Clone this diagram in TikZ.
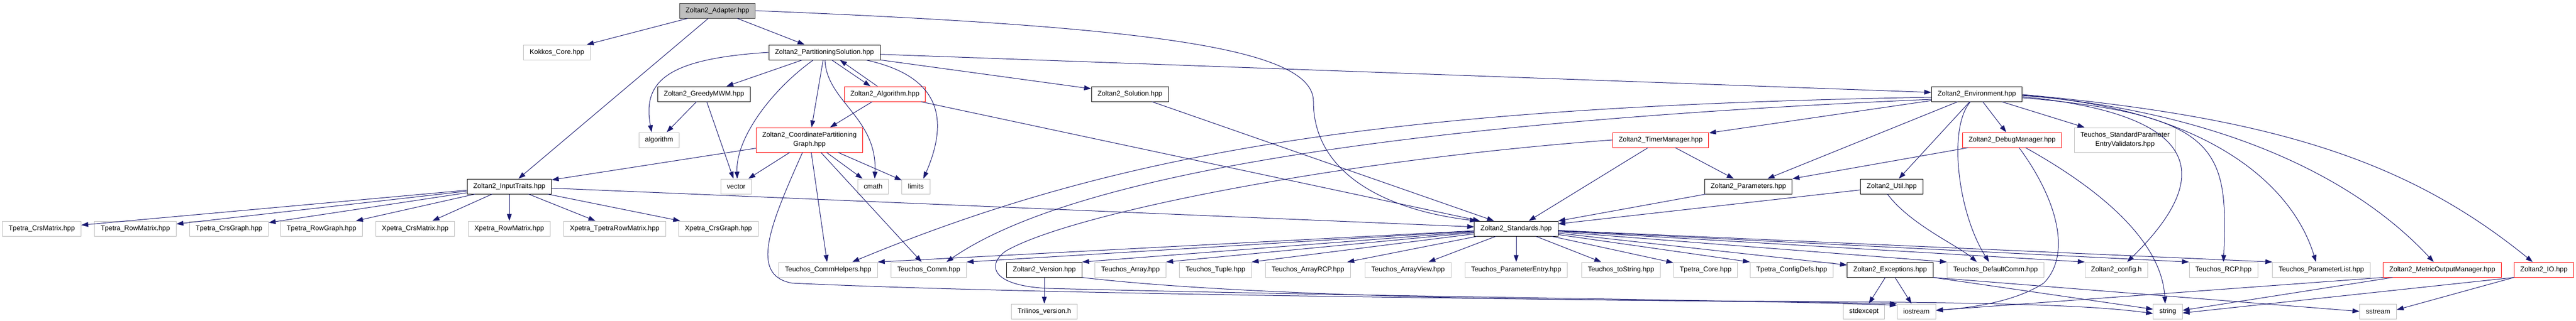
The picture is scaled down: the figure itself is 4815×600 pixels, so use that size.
\documentclass[tikz,border=0pt]{standalone}
\usepackage{fontspec}
\setmainfont{Liberation Sans}
\usetikzlibrary{arrows.meta}
\definecolor{edgeblue}{HTML}{191970}
\definecolor{extgray}{HTML}{BFBFBF}
\definecolor{rootgray}{HTML}{BFBFBF}
\begin{document}
\begin{tikzpicture}[x=1pt,y=-1pt,
	filebox/.style={rectangle,line width=1pt,fill=white,minimum height=28pt,inner xsep=11.5pt,inner ysep=2pt,font=\fontsize{12.8}{17}\selectfont},
	rootbox/.style={filebox,fill=rootgray,draw=black!75},
	docbox/.style={filebox,draw=black},
	extbox/.style={filebox,draw=extgray},
	redbox/.style={filebox,draw=red},
	twoline/.style={align=center,minimum height=46pt},
	incl/.style={draw=edgeblue,line width=1pt,-{Triangle[length=13pt,width=9pt]}}]
			\useasboundingbox (0,0) rectangle (4815,600);
			\node[rootbox] (adapter) at (1341,20) {Zoltan2\_Adapter.hpp};
			\node[extbox] (kokkos) at (1041,98) {Kokkos\_Core.hpp};
			\node[docbox] (partsol) at (1541,98) {Zoltan2\_PartitioningSolution.hpp};
			\node[docbox] (greedy) at (1316,176) {Zoltan2\_GreedyMWM.hpp};
			\node[redbox] (algo) at (1654,176) {Zoltan2\_Algorithm.hpp};
			\node[docbox] (solution) at (2112,176) {Zoltan2\_Solution.hpp};
			\node[docbox] (env) at (3695,176) {Zoltan2\_Environment.hpp};
			\node[extbox] (algorithm) at (1232,262) {algorithm};
			\node[redbox,twoline] (coordgraph) at (1513,262) {Zoltan2\_CoordinatePartitioning\\Graph.hpp};
			\node[redbox] (timer) at (3104,262) {Zoltan2\_TimerManager.hpp};
			\node[redbox] (debug) at (3761,262) {Zoltan2\_DebugManager.hpp};
			\node[extbox,twoline] (validators) at (3972,262) {Teuchos\_StandardParameter\\EntryValidators.hpp};
			\node[docbox] (inputtraits) at (952,349) {Zoltan2\_InputTraits.hpp};
			\node[extbox] (vector) at (1376,349) {vector};
			\node[extbox] (cmath) at (1632,349) {cmath};
			\node[extbox] (limits) at (1712,349) {limits};
			\node[docbox] (params) at (3268,349) {Zoltan2\_Parameters.hpp};
			\node[docbox] (util) at (3536,349) {Zoltan2\_Util.hpp};
			\node[extbox] (tcrsmat) at (78,428) {Tpetra\_CrsMatrix.hpp};
			\node[extbox] (trowmat) at (253,428) {Tpetra\_RowMatrix.hpp};
			\node[extbox] (tcrsgraph) at (428,428) {Tpetra\_CrsGraph.hpp};
			\node[extbox] (trowgraph) at (601,428) {Tpetra\_RowGraph.hpp};
			\node[extbox] (xcrsmat) at (776,428) {Xpetra\_CrsMatrix.hpp};
			\node[extbox] (xrowmat) at (952,428) {Xpetra\_RowMatrix.hpp};
			\node[extbox] (xtprowmat) at (1149,428) {Xpetra\_TpetraRowMatrix.hpp};
			\node[extbox] (xcrsgraph) at (1343,428) {Xpetra\_CrsGraph.hpp};
			\node[docbox] (std) at (2834,428) {Zoltan2\_Standards.hpp};
			\node[extbox] (commhelpers) at (1548,505) {Teuchos\_CommHelpers.hpp};
			\node[extbox] (comm) at (1736,505) {Teuchos\_Comm.hpp};
			\node[docbox] (version) at (1952,505) {Zoltan2\_Version.hpp};
			\node[extbox] (array) at (2113,505) {Teuchos\_Array.hpp};
			\node[extbox] (tuple) at (2272,505) {Teuchos\_Tuple.hpp};
			\node[extbox] (arrayrcp) at (2445,505) {Teuchos\_ArrayRCP.hpp};
			\node[extbox] (arrayview) at (2632,505) {Teuchos\_ArrayView.hpp};
			\node[extbox] (paramentry) at (2834,505) {Teuchos\_ParameterEntry.hpp};
			\node[extbox] (tostring) at (3030,505) {Teuchos\_toString.hpp};
			\node[extbox] (tpcore) at (3188,505) {Tpetra\_Core.hpp};
			\node[extbox] (configdefs) at (3349,505) {Tpetra\_ConfigDefs.hpp};
			\node[docbox] (exceptions) at (3533,505) {Zoltan2\_Exceptions.hpp};
			\node[extbox] (defaultcomm) at (3730,505) {Teuchos\_DefaultComm.hpp};
			\node[extbox] (config) at (3956,505) {Zoltan2\_config.h};
			\node[extbox] (rcp) at (4156,505) {Teuchos\_RCP.hpp};
			\node[extbox] (paramlist) at (4339,505) {Teuchos\_ParameterList.hpp};
			\node[redbox] (metricout) at (4565,505) {Zoltan2\_MetricOutputManager.hpp};
			\node[redbox] (zio) at (4755,505) {Zoltan2\_IO.hpp};
			\node[extbox] (trilinos) at (1952,583) {Trilinos\_version.h};
			\node[extbox] (stdexcept) at (3484,583) {stdexcept};
			\node[extbox] (iostream) at (3582,583) {iostream};
			\node[extbox] (string) at (4052,583) {string};
			\node[extbox] (sstream) at (4445,583) {sstream};
			\draw[incl] (adapter) -- (kokkos);
			\draw[incl] (adapter) -- (inputtraits);
			\draw[incl] (adapter) -- (partsol);
			\draw[incl] (adapter.east) .. controls (2150,50) and (2455,90) .. (2455,190) .. controls (2455,330) and (2600,395) .. ([xshift=5]std.north west);
			\draw[incl] (partsol.west) .. controls (1250,110) and (1200,150) .. ([xshift=-14]algorithm.north);
			\draw[incl] (partsol) -- (greedy);
			\draw[incl] ([xshift=-21]partsol.south) .. controls (1440,170) and (1375,260) .. ([xshift=2]vector.north);
			\draw[incl] (partsol) -- (coordgraph);
			\draw[incl] ([xshift=1]partsol.south) .. controls (1545,190) and (1640,220) .. ([xshift=3]cmath.north);
			\draw[incl] ([xshift=78]partsol.south) .. controls (1745,140) and (1780,210) .. ([xshift=14]limits.north);
			\draw[incl] ([xshift=14]partsol.south) -- ([xshift=-27]algo.north);
			\draw[incl] ([xshift=-14]algo.north) -- ([xshift=29]partsol.south);
			\draw[incl] (partsol) -- (solution);
			\draw[incl] (partsol) -- (env);
			\draw[incl] (greedy) -- (algorithm);
			\draw[incl] (greedy) -- (vector);
			\draw[incl] (algo) -- (coordgraph);
			\draw[incl] (algo) -- (std);
			\draw[incl] (solution) -- (std);
			\draw[incl] (coordgraph) -- (inputtraits);
			\draw[incl] (coordgraph) -- (vector);
			\draw[incl] (coordgraph) -- (cmath);
			\draw[incl] (coordgraph) -- (limits);
			\draw[incl] (coordgraph) -- (commhelpers);
			\draw[incl] (coordgraph) -- (comm);
			\draw[incl] ([xshift=-13]coordgraph.south) .. controls (1440,420) and (1400,515) .. (1480,530) .. controls (2000,555) and (3200,562) .. (iostream.north west);
			\draw[incl] (inputtraits) -- (tcrsmat);
			\draw[incl] (inputtraits) -- (trowmat);
			\draw[incl] (inputtraits) -- (tcrsgraph);
			\draw[incl] (inputtraits) -- (trowgraph);
			\draw[incl] (inputtraits) -- (xcrsmat);
			\draw[incl] (inputtraits) -- (xrowmat);
			\draw[incl] (inputtraits) -- (xtprowmat);
			\draw[incl] (inputtraits) -- (xcrsgraph);
			\draw[incl] (inputtraits) -- (std);
			\draw[incl] (env) -- (timer);
			\draw[incl] (env) -- (params);
			\draw[incl] (env) -- (util);
			\draw[incl] (env) -- (debug);
			\draw[incl] (env) -- (validators);
			\draw[incl] ([yshift=-6]env.west) .. controls (2600,200) and (2100,280) .. ([xshift=45]commhelpers.north);
			\draw[incl] ([yshift=-10]env.west) .. controls (2600,230) and (2000,330) .. ([xshift=33]comm.north);
			\draw[incl] ([xshift=-12]env.south) .. controls (3640,240) and (3660,400) .. ([xshift=-12]defaultcomm.north);
			\draw[incl] ([yshift=-5]env.east) .. controls (4120,215) and (4140,330) .. ([xshift=20]config.north);
			\draw[incl] ([yshift=-7]env.east) .. controls (4150,215) and (4165,280) .. (rcp.north);
			\draw[incl] ([yshift=-3]env.east) .. controls (4100,200) and (4280,330) .. ([xshift=-10]paramlist.north);
			\draw[incl] ([yshift=-2]env.east) .. controls (4150,210) and (4400,330) .. ([xshift=-16]metricout.north);
			\draw[incl] ([yshift=-1]env.east) .. controls (4250,220) and (4500,300) .. ([xshift=-21]zio.north);
			\draw[incl] (timer) -- (params);
			\draw[incl] (timer) -- (std);
			\draw[incl] (timer.west) .. controls (2500,300) and (2000,400) .. (1880,470) .. controls (1845,495) and (1850,535) .. (1960,540) .. controls (2600,556) and (3300,562) .. ([yshift=-3]iostream.north west);
			\draw[incl] (debug) -- (params);
			\draw[incl] ([xshift=13]debug.south) .. controls (3850,380) and (3870,480) .. (3820,530) .. controls (3760,570) and (3660,578) .. ([yshift=2]iostream.east);
			\draw[incl] ([xshift=25]debug.south) .. controls (3900,340) and (4040,440) .. ([xshift=-5]string.north);
			\draw[incl] (params) -- (std);
			\draw[incl] (util) -- (std);
			\draw[incl] ([xshift=-8]util.south) .. controls (3570,420) and (3660,460) .. ([xshift=-35]defaultcomm.north);
			\draw[incl] (std) -- (commhelpers.north east);
			\draw[incl] (std) -- (comm.north east);
			\draw[incl] (std) -- (version.north east);
			\draw[incl] (std) -- (array.north east);
			\draw[incl] (std) -- (tuple.north east);
			\draw[incl] (std) -- (arrayrcp);
			\draw[incl] (std) -- (arrayview);
			\draw[incl] (std) -- (paramentry);
			\draw[incl] (std) -- (tostring);
			\draw[incl] (std) -- (tpcore);
			\draw[incl] (std) -- (configdefs.north west);
			\draw[incl] (std) -- (exceptions);
			\draw[incl] (std) -- (defaultcomm.north west);
			\draw[incl] (std) -- (config.north west);
			\draw[incl] (std) -- (rcp.north west);
			\draw[incl] (std) -- (paramlist.north west);
			\draw[incl] (version) -- (trilinos);
			\draw[incl] (version.south east) .. controls (2300,552) and (2800,562) .. (3300,564) .. controls (3700,566) and (3900,570) .. ([yshift=-4]string.west);
			\draw[incl] (exceptions) -- (stdexcept);
			\draw[incl] (exceptions) -- (iostream);
			\draw[incl] (exceptions.south east) -- (string);
			\draw[incl] (exceptions.south east) -- (sstream.west);
			\draw[incl] (metricout.south west) -- ([yshift=2]iostream.east);
			\draw[incl] ([xshift=18]metricout.south west) -- ([yshift=2]string.east);
			\draw[incl] (zio.south west) -- ([yshift=-3]string.east);
			\draw[incl] (zio.south west) -- ([yshift=3]sstream.east);
		\end{tikzpicture}
\end{document}
